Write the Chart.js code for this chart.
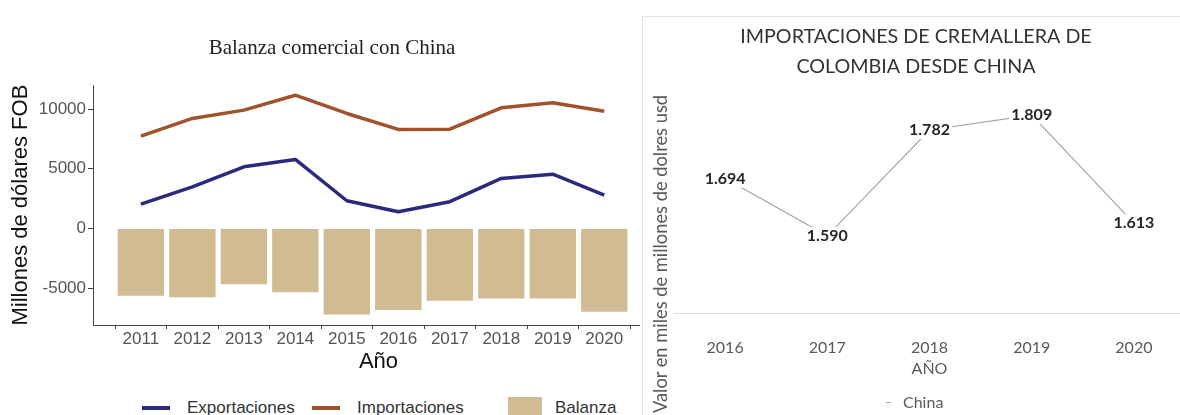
<!DOCTYPE html>
<html>
<head>
<meta charset="utf-8">
<script src="https://cdn.jsdelivr.net/npm/chart.js@4.4.1/dist/chart.umd.min.js"></script>
<style>
  html, body { margin: 0; padding: 0; background: #fff; }
  body { width: 1180px; height: 415px; position: relative; overflow: hidden; }
  #leftBox { position: absolute; left: 0; top: 0; width: 664px; height: 380px; }
  #rightBox { position: absolute; left: 640px; top: 0; width: 548px; height: 390px; background: #fff; }
  #frame { position: absolute; left: 642px; top: 16px; width: 560px; height: 420px;
           border-top: 1px solid #e4e4e4; border-left: 1px solid #e4e4e4; }
  .lg { position: absolute; font-family: "Liberation Sans", Arial, sans-serif; font-size: 17px;
        color: #333; line-height: 20px; top: 398px; }
  .ln { position: absolute; height: 4px; top: 406px; }
  #yTitleR { position: absolute; left: 660px; top: 254px; white-space: nowrap;
             font-family: Lato, "Open Sans", sans-serif; font-size: 18.3px; color: #595959;
             transform: translate(-50%, -50%) rotate(-90deg); }
  #legR { position: absolute; left: 903px; top: 392px; font-family: Lato, sans-serif;
          font-size: 16px; color: #595959; line-height: 20px; }
  #legRmark { position: absolute; left: 886px; top: 402px; width: 5px; height: 1px; background: #a5a5a5; }
</style>
</head>
<body>
<div id="leftBox"><canvas id="left"></canvas></div>
<div class="ln" style="left:142px; width:28px; background:#2b2a7c;"></div>
<div class="lg" style="left:187px;">Exportaciones</div>
<div class="ln" style="left:312px; width:28px; background:#a0522d;"></div>
<div class="lg" style="left:357px;">Importaciones</div>
<div style="position:absolute; left:508px; top:397px; width:34px; height:24px; background:#d0bb92;"></div>
<div class="lg" style="left:555px;">Balanza</div>

<div id="rightBox"><canvas id="right"></canvas></div>
<div id="frame"></div>
<div id="yTitleR">Valor en miles de millones de dolres usd</div>
<div id="legRmark"></div>
<div id="legR">China</div>

<script>
// ---- left chart: Balanza comercial con China (millones USD FOB) ----
const years = [2011, 2012, 2013, 2014, 2015, 2016, 2017, 2018, 2019, 2020];
const exportaciones = [2040, 3490, 5170, 5780, 2320, 1400, 2240, 4190, 4550, 2790];
const importaciones = [7740, 9220, 9920, 11170, 9640, 8300, 8320, 10110, 10530, 9830];
const balanza = [-5640, -5780, -4690, -5360, -7210, -6840, -6060, -5870, -5870, -6980];
const leftYTicks = [-5000, 0, 5000, 10000];

// ---- right chart: importaciones de cremallera ----
const yearsR = ["2016", "2017", "2018", "2019", "2020"];
const china = [1.694, 1.590, 1.782, 1.809, 1.613];

const sans = "'Liberation Sans', Arial, sans-serif";
const pts = (vals) => vals.map((v, i) => ({ x: years[i], y: v }));

new Chart(document.getElementById("left"), {
  type: "bar",
  data: {
    datasets: [
      {
        type: "line",
        label: "Exportaciones",
        data: pts(exportaciones),
        borderColor: "#2b2a7c",
        borderWidth: 3.5,
        pointRadius: 0,
        tension: 0,
        borderJoinStyle: "round",
      },
      {
        type: "line",
        label: "Importaciones",
        data: pts(importaciones),
        borderColor: "#a0522d",
        borderWidth: 3.5,
        pointRadius: 0,
        tension: 0,
        borderJoinStyle: "round",
      },
      {
        type: "bar",
        label: "Balanza",
        data: pts(balanza),
        backgroundColor: "#d0bb92",
        barPercentage: 0.9,
        categoryPercentage: 1,
      },
    ],
  },
  options: {
    responsive: true,
    maintainAspectRatio: false,
    animation: false,
    layout: { padding: 0 },
    plugins: {
      legend: { display: false },
      tooltip: { enabled: false },
      title: {
        display: true,
        text: "Balanza comercial con China",
        color: "#222",
        font: { family: "'Liberation Serif', 'Times New Roman', serif", size: 21, weight: "normal" },
        padding: { top: 36, bottom: 24 },
      },
    },
    scales: {
      x: {
        type: "linear",
        min: 2010.07,
        max: 2021.16,
        offset: false,
        afterFit: (s) => { s.height = 55; },
        afterBuildTicks: (s) => { s.ticks = years.map((v) => ({ value: v })); },
        grid: { display: true, drawOnChartArea: false, drawTicks: true, tickLength: 4, color: "#444" },
        border: { display: true, color: "#444", width: 1 },
        ticks: { color: "#555", font: { family: sans, size: 17 }, padding: 0, callback: (v) => String(v), maxRotation: 0 },
        title: { display: true, text: "Año", color: "#111", font: { family: sans, size: 22 }, padding: { top: 0, bottom: 5 } },
      },
      y: {
        min: -8100,
        max: 12010,
        afterFit: (s) => { s.width = 93; },
        afterBuildTicks: (s) => { s.ticks = leftYTicks.map((v) => ({ value: v })); },
        grid: { display: true, drawOnChartArea: false, drawTicks: true, tickLength: 5, color: "#444" },
        border: { display: true, color: "#444", width: 1 },
        ticks: { color: "#555", font: { family: sans, size: 17 }, padding: 2, callback: (v) => String(v) },
        title: { display: true, text: "Millones de dólares FOB", color: "#111", font: { family: sans, size: 22 }, padding: { top: 8, bottom: 0 } },
      },
    },
  },
});

// value labels with white boxes, drawn at each point
const valueLabels = {
  id: "valueLabels",
  afterDatasetsDraw(chart) {
    const ctx = chart.ctx;
    const meta = chart.getDatasetMeta(0);
    ctx.save();
    ctx.font = "bold 16px Lato, 'Open Sans', sans-serif";
    ctx.textAlign = "center";
    ctx.textBaseline = "middle";
    meta.data.forEach((p, i) => {
      const txt = china[i].toFixed(3);
      const w = ctx.measureText(txt).width;
      ctx.fillStyle = "#fff";
      ctx.fillRect(p.x - w / 2 - 2, p.y - 9, w + 4, 18);
      ctx.fillStyle = "#262626";
      ctx.fillText(txt, p.x, p.y);
    });
    ctx.restore();
  },
};

new Chart(document.getElementById("right"), {
  type: "line",
  data: {
    labels: yearsR,
    datasets: [
      {
        label: "China",
        data: china,
        borderColor: "#a5a5a5",
        borderWidth: 1.25,
        pointRadius: 0,
        tension: 0,
      },
    ],
  },
  options: {
    responsive: true,
    maintainAspectRatio: false,
    animation: false,
    layout: { padding: { left: 7, right: 3, top: 0, bottom: 0 } },
    plugins: {
      legend: { display: false },
      tooltip: { enabled: false },
      title: {
        display: true,
        text: ["IMPORTACIONES DE CREMALLERA DE", "COLOMBIA DESDE CHINA"],
        color: "#333",
        font: { family: "Lato, 'Open Sans', sans-serif", size: 19.7, weight: "normal", lineHeight: "30px" },
        padding: { top: 22, bottom: 5 },
      },
    },
    scales: {
      x: {
        offset: true,
        afterFit: (s) => { s.height = 77; },
        grid: { display: false },
        border: { display: true, color: "#d9d9d9", width: 1 },
        ticks: { color: "#595959", font: { family: "Lato, sans-serif", size: 16 }, padding: 17 },
        title: { display: true, text: "AÑO", color: "#595959", font: { family: "Lato, sans-serif", size: 16 }, padding: { top: 0, bottom: 12 } },
      },
      y: {
        min: 1.45,
        max: 1.86,
        afterFit: (s) => { s.width = 27; },
        grid: { display: false },
        border: { display: false },
        ticks: { display: false },
      },
    },
  },
  plugins: [valueLabels],
});
</script>
</body>
</html>
